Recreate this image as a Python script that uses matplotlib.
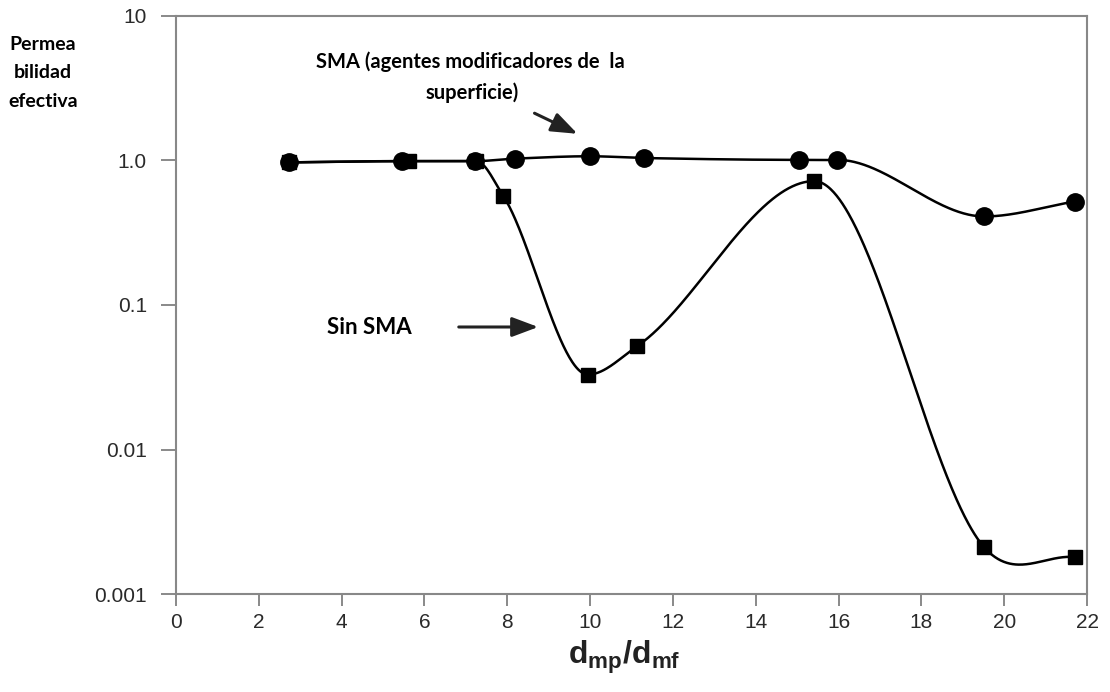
import numpy as np
import matplotlib
matplotlib.use("Agg")
import matplotlib.pyplot as plt

plt.rcParams["mathtext.fontset"] = "custom"
plt.rcParams["mathtext.bf"] = "Liberation Sans:bold"
plt.rcParams["mathtext.rm"] = "Liberation Sans"

# ---- data ----
x_sma = [2.73, 5.46, 7.22, 8.19, 10.0, 11.3, 15.05, 15.97, 19.52, 21.7]
y_sma = [0.97, 0.99, 0.99, 1.03, 1.07, 1.04, 1.01, 1.01, 0.41, 0.52]

x_sin = [2.73, 5.63, 7.25, 7.90, 9.95, 11.14, 15.41, 19.52, 21.7]
y_sin = [0.97, 0.99, 0.99, 0.57, 0.033, 0.052, 0.72, 0.0021, 0.0018]

x_ticks = [0, 2, 4, 6, 8, 10, 12, 14, 16, 18, 20, 22]
y_ticks = [0.001, 0.01, 0.1, 1.0, 10]
y_ticklabels = ["0.001", "0.01", "0.1", "1.0", "10"]


def pchip_slopes(x, y):
    n = len(x); h = np.diff(x); dl = np.diff(y) / h
    m = np.zeros(n)
    m[0] = dl[0]; m[-1] = dl[-1]
    for i in range(1, n - 1):
        if dl[i - 1] * dl[i] <= 0:
            m[i] = 0
        else:
            w1 = 2 * h[i] + h[i - 1]; w2 = h[i] + 2 * h[i - 1]
            m[i] = (w1 + w2) / (w1 / dl[i - 1] + w2 / dl[i])
    return m, dl


def hermite(x, y, m, xs):
    h = np.diff(x)
    idx = np.clip(np.searchsorted(x, xs) - 1, 0, len(x) - 2)
    t = (xs - x[idx]) / h[idx]
    h00 = 2 * t ** 3 - 3 * t ** 2 + 1; h10 = t ** 3 - 2 * t ** 2 + t
    h01 = -2 * t ** 3 + 3 * t ** 2; h11 = t ** 3 - t ** 2
    return h00 * y[idx] + h10 * h[idx] * m[idx] + h01 * y[idx + 1] + h11 * h[idx] * m[idx + 1]


def smooth(xv, yv, overshoot_last=False):
    x = np.asarray(xv, float); y = np.log10(np.asarray(yv, float))
    m, dl = pchip_slopes(x, y)
    if overshoot_last:
        # the drawn curve keeps its steep slope past the second-to-last point
        m[-2] = 0.5 * (dl[-2] + dl[-1])
    xs = np.linspace(x[0], x[-1], 800)
    return xs, 10 ** hermite(x, y, m, xs)


fig = plt.figure(figsize=(11.1, 6.92), dpi=100)
ax = fig.add_axes([0.1586, 0.1416, 0.8207, 0.8353])
ax.set_yscale("log")
ax.set_xlim(0, 22)
ax.set_ylim(0.001, 10)

xs1, ys1 = smooth(x_sma, y_sma)
xs2, ys2 = smooth(x_sin, y_sin, overshoot_last=True)

ax.plot(xs2, ys2, color="black", lw=1.8, zorder=2)
ax.plot(x_sin, y_sin, "s", color="black", ms=9.5, zorder=3)
ax.plot(xs1, ys1, color="black", lw=1.8, zorder=4)
ax.plot(x_sma, y_sma, "o", color="black", ms=12.5, zorder=5)

ax.set_xticks(x_ticks)
ax.set_xticklabels([str(v) for v in x_ticks])
ax.set_yticks(y_ticks)
ax.set_yticklabels(y_ticklabels)
ax.minorticks_off()
ax.tick_params(axis="both", direction="out", width=1.3, color="#808080",
               labelsize=15, labelcolor="#2a2a2a")
ax.tick_params(axis="x", length=8.5, pad=5)
ax.tick_params(axis="y", length=11, pad=10)
for lab in ax.get_xticklabels() + ax.get_yticklabels():
    lab.set_family("Liberation Sans")
for s in ax.spines.values():
    s.set_color("#888888"); s.set_linewidth(1.5)

fig.text(624 / 1110, 1 - 657 / 692, r"$\mathbf{d_{mp}/d_{mf}}$", ha="center", va="center",
         fontsize=23, color="#222222")

fig.text(43 / 1110, 1 - 73 / 692, "Permea\nbilidad\nefectiva", ha="center", va="center",
         fontsize=14, fontweight="bold", family="Lato", linespacing=1.85)
fig.text(470 / 1110, 1 - 62 / 692, "SMA (agentes modificadores de  la", ha="center", va="center",
         fontsize=14.5, fontweight="bold", family="Lato")
fig.text(472 / 1110, 1 - 93 / 692, "superficie)", ha="center", va="center",
         fontsize=14.5, fontweight="bold", family="Lato")
fig.text(412 / 1110, 1 - 327 / 692, "Sin SMA", ha="right", va="center",
         fontsize=16, fontweight="bold", family="Lato")

arrowprops = dict(arrowstyle="-|>,head_length=0.8,head_width=0.3", color="#222222", lw=2.2,
                  mutation_scale=20)
ax.annotate("", xy=(580, 692 - 135), xytext=(532, 692 - 112), xycoords="figure pixels",
            textcoords="figure pixels", arrowprops=arrowprops)
ax.annotate("", xy=(541, 692 - 327), xytext=(456, 692 - 327), xycoords="figure pixels",
            textcoords="figure pixels", arrowprops=arrowprops)

fig.savefig("out.png", dpi=100)
